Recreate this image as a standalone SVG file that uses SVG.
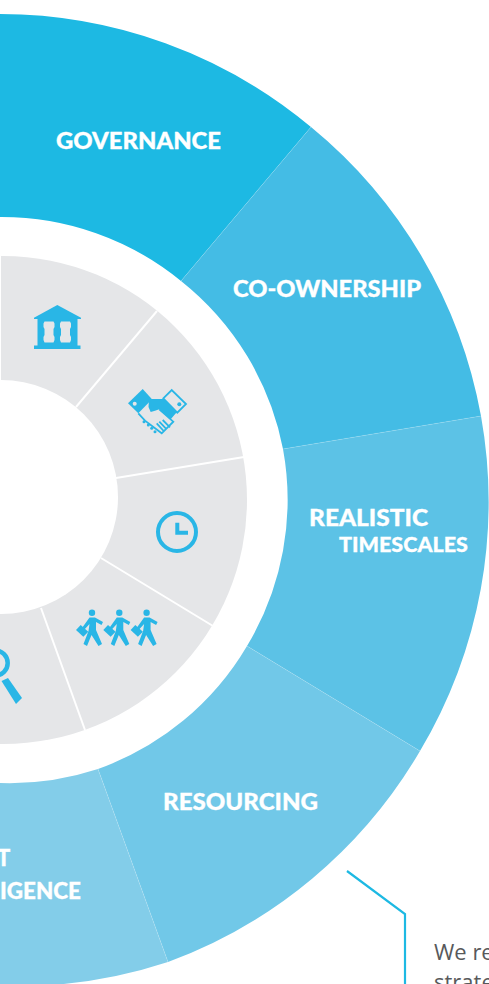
<svg xmlns="http://www.w3.org/2000/svg" width="489" height="984" viewBox="0 0 489 984">
<style>
.l{font-family:"Lato","Liberation Sans",sans-serif;font-weight:900;font-size:22px;fill:#fff;stroke:#fff;stroke-width:.3}
.i{fill:#29B6E6}
.o{fill:none;stroke:#29B6E6;stroke-width:1.800}
.sep{stroke:#fff;stroke-width:2;fill:none}
.s{stroke:#fff;stroke-opacity:.25;stroke-width:.6}
.n{font-family:"Open Sans","Liberation Sans",sans-serif;font-size:22px;fill:#58595B}
</style>
<rect width="489" height="984" fill="#fff"/>
<g id="segment-governance"><path d="M0 14A486 486 0 0 1 311 127L181 281A283 283 0 0 0 0 217Z" fill="#1DB9E3"/><text class="l" x="56" y="149" textLength="165" lengthAdjust="spacingAndGlyphs">GOVERNANCE</text></g>
<g id="segment-co-ownership"><path d="M311 127A486 486 0 0 1 481 416L283 449A283 283 0 0 0 181 281Z" fill="#44BCE5"/><text class="l" x="233" y="297" textLength="188" lengthAdjust="spacingAndGlyphs">CO-OWNERSHIP</text></g>
<g id="segment-realistic-timescales"><path d="M481 416A486 486 0 0 1 420 751L247 646A283 283 0 0 0 283 449Z" fill="#5CC2E6"/><text class="l" x="309" y="525.500" textLength="119" lengthAdjust="spacingAndGlyphs">REALISTIC</text><text class="l" x="339" y="551.700" textLength="129" lengthAdjust="spacingAndGlyphs" style="font-size:20px">TIMESCALES</text></g>
<g id="segment-resourcing"><path d="M420 751A486 486 0 0 1 168 962L98 769A283 283 0 0 0 247 646Z" fill="#71C8E8"/><text class="l" x="163" y="810" textLength="155" lengthAdjust="spacingAndGlyphs">RESOURCING</text></g>
<g id="segment-intelligence"><path d="M168 962A486 486 0 0 1 0 986V783A283 283 0 0 0 98 769Z" fill="#83CDE9"/><text class="l" x="-3" y="866">T</text><text class="l" x="0" y="899" textLength="81" lengthAdjust="spacingAndGlyphs">IGENCE</text></g>
<g id="seams"><path class="s" d="M311 127L181 281M481 416L283 449M420 751L247 646M168 962L98 769"/></g>
<g id="inner-ring">
<circle cx="3" cy="500" r="244" fill="#E5E6E8"/>
<rect x="-1" y="250" width="2" height="135" fill="#fff"/>
<path class="sep" d="M157 311L76 407M244 457L116 478M213 626L101 558M85 730L41 608"/>
<circle cx="1" cy="497" r="117" fill="#fff"/>
</g>
<g id="icon-bank" class="i"><path d="M57.300 305L81 317.700V319H34V317.700Z"/><path d="M37.500 319H77.500V345.500H80.500V349H34V345.500H37.500ZM44.500 321.500L43.500 323.500V327L44.500 329V335L43.500 337V340L44.500 342.500H53.500L54.500 340V337L53.500 335V329L54.500 327V323.500L53.500 321.500ZM61 321.500L60 323.500V327L61 329V335L60 337V340L61 342.500H70L71 340V337L70 335V329L71 327V323.500L70 321.500Z" fill-rule="evenodd"/></g>
<g id="icon-handshake"><path class="i" d="M128 403.300L142.700 389L152 399.300L138.300 413.300Z"/><circle cx="134.700" cy="403.700" r="2" fill="#E5E6E8"/><path class="o" d="M163.300 398.300L171.700 390L186 404L177.300 412.700Z"/><circle class="i" cx="179.300" cy="404.300" r="2"/><path class="i" d="M149 399H164L176.700 412.300L170.700 419.300L159.300 409.300L155 410.700L150.700 412L148.500 407Z"/><path class="o" d="M138.300 413.300L145 420.700L161.700 433.300L173.300 421.700L159.300 409.300M156.700 423.300L163.700 431M159.300 421.700L166.700 429.300M162.700 420L170 427.300"/><circle class="i" cx="144" cy="421.700" r="1.500"/><circle class="i" cx="148.300" cy="425" r="1.500"/><circle class="i" cx="151.700" cy="428.300" r="1.500"/><circle class="i" cx="155" cy="431.700" r="1.500"/></g>
<g id="icon-clock"><circle cx="177" cy="532" r="19" fill="none" stroke="#29B6E6" stroke-width="4"/><path d="M177.300 522.700V532.700H188" fill="none" stroke="#29B6E6" stroke-width="4"/></g>
<defs><g id="w"><circle cx="92" cy="612.700" r="3.200"/><path d="M89.500 617.500H95L103 622L101.500 625L96 622L96 630L102 644L98.500 646L91.500 635L87 646L83.500 644L88.500 631L89.500 624L84 630L82 628Z"/><path d="M76 630L80.700 625L88.300 631.700L83.300 636.700Z"/></g></defs>
<g id="icon-walkers" class="i"><use href="#w"/><use href="#w" x="27.300"/><use href="#w" x="54.600"/></g>
<g id="icon-magnifier"><circle cx="-4.800" cy="663" r="12.500" fill="none" stroke="#29B6E6" stroke-width="4.500"/><path class="i" d="M1.500 681L8 678L22 698L16 704Z"/></g>
<g id="connectors"><path d="M347 871L405 914V984" fill="none" stroke="#1DB9E3" stroke-width="2.200"/></g>
<g id="note"><text class="n" x="434" y="960">We re</text><text class="n" x="434" y="990">strate</text></g>
</svg>
